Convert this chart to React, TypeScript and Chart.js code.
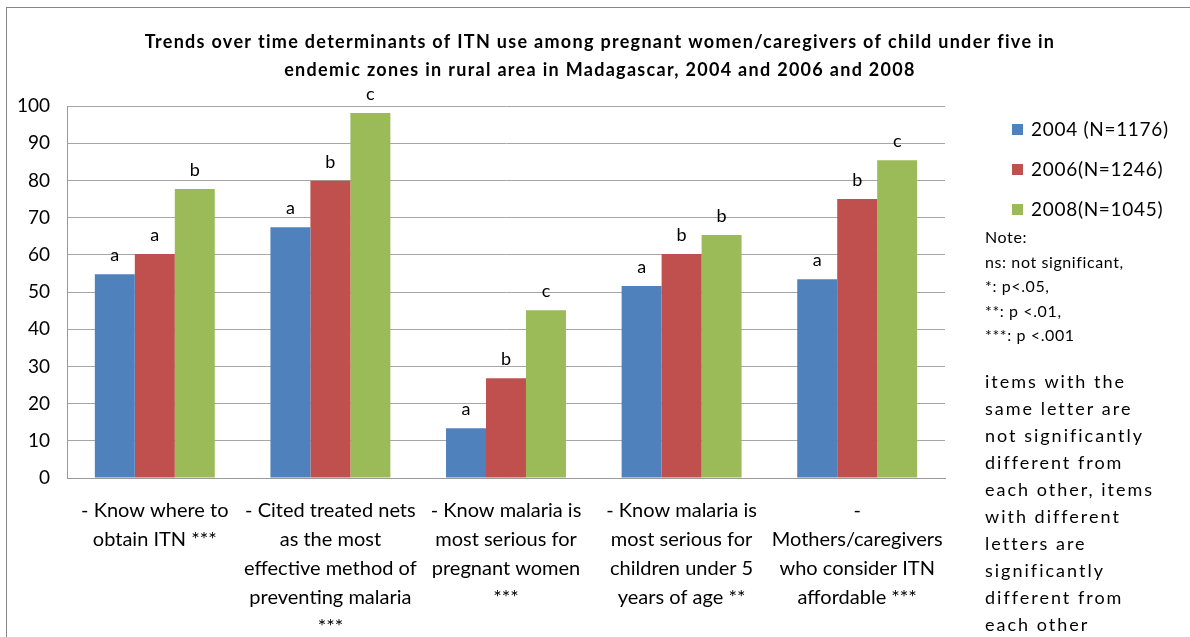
import React, { useEffect, useRef } from "react";
import { Chart, registerables } from "chart.js";
Chart.register(...registerables);

const categories: string[][] = [
  ["- Know where to", "obtain ITN ***"],
  ["- Cited treated nets", "as the most", "effective method of", "preventing malaria", "***"],
  ["- Know malaria is", "most serious for", "pregnant women", "***"],
  ["- Know malaria is", "most serious for", "children under 5", "years of age **"],
  ["-", "Mothers/caregivers", "who consider ITN", "affordable ***"],
];
const seriesNames = ["2004 (N=1176)", "2006(N=1246)", "2008(N=1045)"];
const series2004 = [54.8, 67.4, 13.4, 51.6, 53.4];
const series2006 = [60.2, 79.9, 26.8, 60.2, 75.0];
const series2008 = [77.7, 98.1, 45.1, 65.3, 85.4];
const letters2004 = ["a", "a", "a", "a", "a"];
const letters2006 = ["a", "b", "b", "b", "b"];
const letters2008 = ["b", "c", "c", "b", "c"];
const colors = ["#4F81BD", "#C0504D", "#9BBB59"];
const yMin = 0;
const yMax = 100;
const yStep = 10;
const titleLines = [
  "Trends over time determinants of ITN use among pregnant women/caregivers of child under five in",
  "endemic zones in rural area in Madagascar, 2004 and 2006 and 2008",
];
const noteLines = ["Note:", "ns: not significant,", "*: p<.05,", "**: p <.01,", "***: p <.001"];
const explanationLines = [
  "items with the",
  "same letter are",
  "not significantly",
  "different from",
  "each other, items",
  "with different",
  "letters are",
  "significantly",
  "different from",
  "each other",
];

const FONT = "Lato, 'Open Sans', sans-serif";

export default function App() {
  const ref = useRef<HTMLCanvasElement | null>(null);
  useEffect(() => {
    if (!ref.current) return;
    const allLetters = [letters2004, letters2006, letters2008];
    const decor = {
      id: "decor",
      afterDatasetsDraw(chart: any) {
        const ctx = chart.ctx;
        ctx.save();
        ctx.fillStyle = "#000";
        ctx.font = `18px ${FONT}`;
        ctx.textAlign = "center";
        ctx.textBaseline = "alphabetic";
        chart.data.datasets.forEach((ds: any, di: number) => {
          const meta = chart.getDatasetMeta(di);
          meta.data.forEach((bar: any, i: number) => {
            ctx.fillText(allLetters[di][i], bar.x, bar.y - 13);
          });
        });
        ctx.restore();
      },
      afterDraw(chart: any) {
        const ctx = chart.ctx;
        ctx.save();
        // outer frame
        ctx.strokeStyle = "#878787";
        ctx.lineWidth = 1;
        ctx.strokeRect(6.5, 7.5, 1300, 700);
        // title
        ctx.fillStyle = "#000";
        ctx.font = `bold 18px ${FONT}`;
        (ctx as any).letterSpacing = "1.3px";
        ctx.textAlign = "center";
        ctx.textBaseline = "middle";
        ctx.fillText(titleLines[0], 600, 42);
        ctx.fillText(titleLines[1], 600, 70);
        // legend
        ctx.textAlign = "left";
        ctx.font = `19px ${FONT}`;
        (ctx as any).letterSpacing = "0.7px";
        seriesNames.forEach((name, i) => {
          const y = 130 + i * 40;
          ctx.fillStyle = chart.data.datasets[i].backgroundColor;
          ctx.fillRect(1012, y - 6, 11, 11);
          ctx.fillStyle = "#000";
          ctx.fillText(name, 1031, y);
        });
        // notes
        ctx.font = `16px ${FONT}`;
        (ctx as any).letterSpacing = "0.6px";
        noteLines.forEach((t, i) => {
          ctx.fillText(t, 985, 238 + i * 24.5);
        });
        ctx.font = `18px ${FONT}`;
        (ctx as any).letterSpacing = "2px";
        explanationLines.forEach((t, i) => {
          ctx.fillText(t, 985, 382 + i * 27);
        });
        ctx.restore();
      },
    };
    const chart = new Chart(ref.current, {
      type: "bar",
      data: {
        labels: categories,
        datasets: [series2004, series2006, series2008].map((d, i) => ({
          label: seriesNames[i],
          data: d,
          backgroundColor: colors[i],
          borderWidth: 0,
          barPercentage: 1,
          categoryPercentage: 0.683,
        })),
      },
      options: {
        animation: false,
        responsive: false,
        maintainAspectRatio: false,
        layout: { padding: { left: 0, top: 106, right: 245, bottom: 0 } },
        plugins: { legend: { display: false }, title: { display: false }, tooltip: { enabled: false } },
        scales: {
          x: {
            grid: { display: false, drawTicks: false },
            border: { color: "#9a9a9a", width: 1 },
            ticks: {
              color: "#000",
              font: { family: FONT, size: 20, lineHeight: 1.45 },
              padding: 18,
              maxRotation: 0,
              autoSkip: false,
            },
            afterFit(scale: any) {
              scale.height = 159;
            },
          },
          y: {
            min: yMin,
            max: yMax,
            grid: { color: "#a6a6a6", drawTicks: false },
            border: { color: "#9a9a9a", width: 1 },
            ticks: {
              stepSize: yStep,
              color: "#000",
              font: { family: FONT, size: 19 },
              padding: 17,
            },
            afterFit(scale: any) {
              scale.width = 67;
            },
          },
        },
      },
      plugins: [decor],
    });
    return () => chart.destroy();
  }, []);
  return (
    <div style={{ position: "fixed", left: 0, top: 0, width: 1190, height: 637, background: "#fff" }}>
      <canvas ref={ref} width={1190} height={637} style={{ width: 1190, height: 637 }} />
    </div>
  );
}
